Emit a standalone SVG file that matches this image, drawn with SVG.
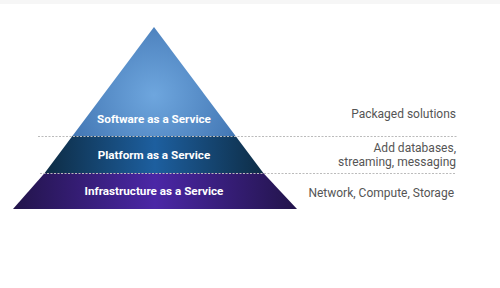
<svg xmlns="http://www.w3.org/2000/svg" width="500" height="288" viewBox="0 0 500 288">
<defs>
<radialGradient id="gS" cx="154" cy="95" r="110" gradientUnits="userSpaceOnUse">
<stop offset="0" stop-color="#6ea6de"/><stop offset="1" stop-color="#3a6dab"/>
</radialGradient>
<linearGradient id="gP" x1="30" y1="0" x2="280" y2="0" gradientUnits="userSpaceOnUse">
<stop offset="0" stop-color="#0b2538"/><stop offset="0.5" stop-color="#1d5f9f"/><stop offset="1" stop-color="#0b2538"/>
</linearGradient>
<linearGradient id="gI" x1="13" y1="0" x2="297" y2="0" gradientUnits="userSpaceOnUse">
<stop offset="0" stop-color="#22144a"/><stop offset="0.5" stop-color="#4b27a6"/><stop offset="1" stop-color="#22144a"/>
</linearGradient>
<style>
.t{font-family:Roboto,"Liberation Sans",sans-serif;font-size:11.7px;font-weight:700;fill:#fff;text-anchor:middle}
.r{font-family:Roboto,"Liberation Sans",sans-serif;font-size:12px;fill:#555;text-anchor:end}
.d{stroke:#bbb;stroke-width:1;stroke-dasharray:2 1.5;fill:none}
</style>
</defs>
<rect x="0" y="0" width="500" height="4" fill="#f6f6f6"/>
<g id="saas">
<polygon points="154,27 235.6,136 72.4,136" fill="url(#gS)"/>
<text class="t" x="154" y="123">Software as a Service</text>
</g>
<g id="paas">
<polygon points="72.4,136 235.6,136 263.3,173 44.7,173" fill="url(#gP)"/>
<text class="t" x="154" y="159">Platform as a Service</text>
</g>
<g id="iaas">
<polygon points="44.7,173 263.3,173 297,209 13,209" fill="url(#gI)"/>
<text class="t" x="154" y="195">Infrastructure as a Service</text>
</g>
<g id="connectors">
<line class="d" x1="38" y1="136.5" x2="458" y2="136.5"/>
<line class="d" x1="40" y1="173.5" x2="456" y2="173.5"/>
</g>
<g id="labels">
<text class="r" x="456" y="118">Packaged solutions</text>
<text class="r" x="456" y="152">Add databases,</text>
<text class="r" x="456" y="166">streaming, messaging</text>
<text class="r" x="454" y="197">Network, Compute, Storage</text>
</g>
</svg>
